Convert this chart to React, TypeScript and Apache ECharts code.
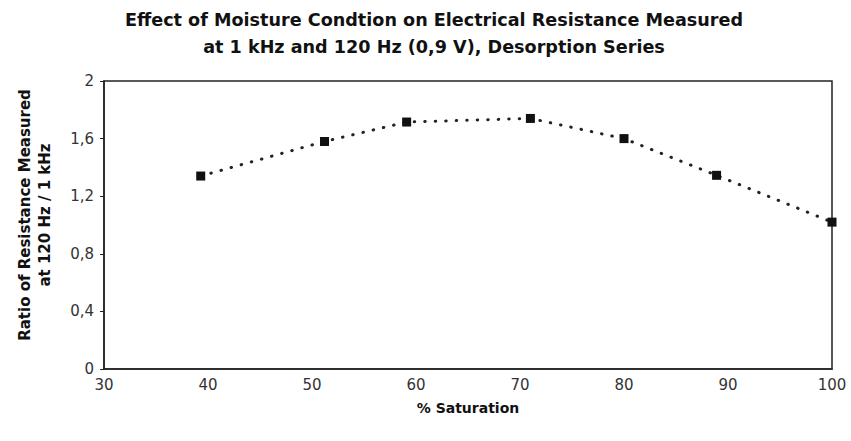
import React, { useEffect, useRef } from "react";
import * as echarts from "echarts";

const titleLines = [
  "Effect of Moisture Condtion on Electrical Resistance Measured",
  "at 1 kHz and 120 Hz (0,9 V), Desorption Series",
];
const xAxisName = "% Saturation";
const yAxisName = ["Ratio of Resistance Measured", "at 120 Hz / 1 kHz"];
const saturation = [39.3, 51.2, 59.1, 71.0, 80.0, 88.9, 100];
const ratio = [1.34, 1.58, 1.715, 1.74, 1.6, 1.345, 1.02];

const FONT = "'DejaVu Sans', sans-serif";

export default function App() {
  const ref = useRef<HTMLDivElement>(null);
  useEffect(() => {
    if (!ref.current) return;
    const chart = echarts.init(ref.current, undefined, { renderer: "svg" });
    chart.setOption({
      animation: false,
      backgroundColor: "#ffffff",
      title: {
        text: titleLines.join("\n"),
        left: 429,
        top: 1,
        textAlign: "center",
        textStyle: {
          fontFamily: FONT,
          fontSize: 17.6,
          fontWeight: "bold",
          color: "#111",
          lineHeight: 27,
        },
      },
      graphic: [
        {
          type: "text",
          x: 25,
          y: 215,
          rotation: Math.PI / 2,
          style: {
            text: yAxisName[0],
            fontFamily: FONT,
            fontSize: 15,
            fontWeight: "bold",
            fill: "#111",
            textAlign: "center",
            textVerticalAlign: "middle",
          },
        },
        {
          type: "text",
          x: 45,
          y: 215,
          rotation: Math.PI / 2,
          style: {
            text: yAxisName[1],
            fontFamily: FONT,
            fontSize: 15,
            fontWeight: "bold",
            fill: "#111",
            textAlign: "center",
            textVerticalAlign: "middle",
          },
        },
      ],
      grid: { left: 104, right: 19, top: 81, bottom: 72, show: true, borderColor: "#222", borderWidth: 1.5 },
      xAxis: {
        type: "value",
        min: 30,
        max: 100,
        interval: 10,
        name: xAxisName,
        nameLocation: "middle",
        nameGap: 32,
        nameTextStyle: { fontFamily: FONT, fontSize: 14, fontWeight: "bold", color: "#111", verticalAlign: "top" },
        axisLine: { show: true, lineStyle: { color: "#222", width: 1.5 } },
        axisTick: { show: false },
        splitLine: { show: false },
        axisLabel: { fontFamily: FONT, fontSize: 15, color: "#333", margin: 8 },
      },
      yAxis: {
        type: "value",
        min: 0,
        max: 2,
        interval: 0.4,
        axisLine: { show: true, lineStyle: { color: "#222", width: 1.5 } },
        axisTick: { show: true, inside: false, length: 4, lineStyle: { color: "#222" } },
        splitLine: { show: false },
        axisLabel: {
          fontFamily: FONT,
          fontSize: 15,
          color: "#333",
          margin: 10,
          formatter: (v: number) => (Math.round(v * 10) / 10).toString().replace(".", ","),
        },
      },
      series: [
        {
          type: "line",
          data: saturation.map((x, i) => [x, ratio[i]]),
          symbol: "rect",
          symbolSize: 9,
          itemStyle: { color: "#111" },
          lineStyle: { color: "#222", width: 3, type: [0.5, 10], cap: "round" },
        },
      ],
    });
    return () => chart.dispose();
  }, []);
  return <div ref={ref} style={{ width: 851, height: 441, position: "absolute", left: 0, top: 0 }} />;
}
